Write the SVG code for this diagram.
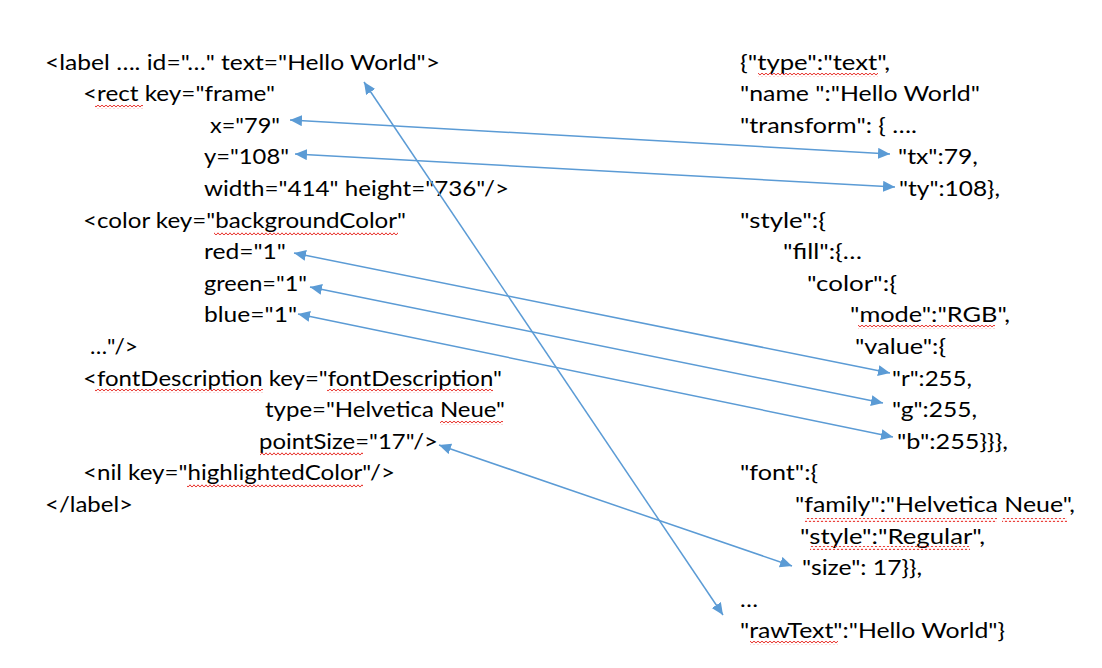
<svg xmlns="http://www.w3.org/2000/svg" width="1102" height="668" viewBox="0 0 1102 668">
<style>
text{font-family:Lato,"Open Sans","Liberation Sans",sans-serif;font-size:22px;fill:#000}
.c{stroke:#5B9BD5;stroke-width:1.5;fill:none;marker-start:url(#ah);marker-end:url(#ah)}
.sq{fill:url(#wave)}
</style>
<defs>
<marker id="ah" markerUnits="userSpaceOnUse" markerWidth="13" markerHeight="12" refX="12" refY="5.5" orient="auto-start-reverse" viewBox="0 0 13 12">
<path d="M0,0 L12,5.5 L0,11 z" fill="#5B9BD5"/>
</marker>
<pattern id="wave" patternUnits="userSpaceOnUse" width="4" height="4">
<path d="M0,3.2 L2,0.8 L4,3.2" stroke="#E8302A" stroke-width="1" fill="none"/>
</pattern>
</defs>
<rect width="1102" height="668" fill="#fff"/>
<g id="xml">
<g id="l1"><text x="45" y="69.5" textLength="395" lengthAdjust="spacingAndGlyphs">&lt;label …. id="…" text="Hello World"&gt;</text></g>
<g id="l2"><text x="83" y="101.1" textLength="192" lengthAdjust="spacingAndGlyphs">&lt;rect key="frame"</text><rect class="sq" x="95" y="105" width="48" height="4"/></g>
<g id="l3"><text x="210" y="132.7" textLength="70" lengthAdjust="spacingAndGlyphs">x="79"</text></g>
<g id="l4"><text x="204" y="164.3" textLength="85" lengthAdjust="spacingAndGlyphs">y="108"</text></g>
<g id="l5"><text x="204" y="195.9" textLength="305" lengthAdjust="spacingAndGlyphs">width="414" height="736"/&gt;</text></g>
<g id="l6"><text x="83" y="227.5" textLength="323" lengthAdjust="spacingAndGlyphs">&lt;color key="backgroundColor"</text><rect class="sq" x="214" y="231" width="184" height="4"/></g>
<g id="l7"><text x="204" y="259.1" textLength="82" lengthAdjust="spacingAndGlyphs">red="1"</text></g>
<g id="l8"><text x="204" y="290.7" textLength="103" lengthAdjust="spacingAndGlyphs">green="1"</text></g>
<g id="l9"><text x="204" y="322.3" textLength="93" lengthAdjust="spacingAndGlyphs">blue="1"</text></g>
<g id="l10"><text x="90" y="353.9" textLength="48" lengthAdjust="spacingAndGlyphs">…"/&gt;</text></g>
<g id="l11"><text x="83" y="385.5" textLength="419" lengthAdjust="spacingAndGlyphs">&lt;fontDescription key="fontDescription"</text><rect class="sq" x="95" y="389" width="168" height="4"/><rect class="sq" x="327" y="389" width="166" height="4"/></g>
<g id="l12"><text x="265" y="417.1" textLength="240" lengthAdjust="spacingAndGlyphs">type="Helvetica Neue"</text><rect class="sq" x="440" y="421" width="63" height="4"/></g>
<g id="l13"><text x="259" y="448.7" textLength="179" lengthAdjust="spacingAndGlyphs">pointSize="17"/&gt;</text><rect class="sq" x="260" y="452" width="103" height="4"/></g>
<g id="l14"><text x="83" y="480.3" textLength="312" lengthAdjust="spacingAndGlyphs">&lt;nil key="highlightedColor"/&gt;</text><rect class="sq" x="187" y="484" width="176" height="4"/></g>
<g id="l15"><text x="45" y="511.9" textLength="88" lengthAdjust="spacingAndGlyphs">&lt;/label&gt;</text></g>
</g>
<g id="json">
<g id="r1"><text x="740" y="69.5" textLength="150" lengthAdjust="spacingAndGlyphs">{"type":"text",</text><rect class="sq" x="758" y="73" width="120" height="4"/></g>
<g id="r2"><text x="740" y="101.1" textLength="240" lengthAdjust="spacingAndGlyphs">"name ":"Hello World"</text></g>
<g id="r3"><text x="740" y="132.7" textLength="177" lengthAdjust="spacingAndGlyphs">"transform": { ….</text></g>
<g id="r4"><text x="898" y="164.3" textLength="80" lengthAdjust="spacingAndGlyphs">"tx":79,</text></g>
<g id="r5"><text x="899" y="195.9" textLength="101" lengthAdjust="spacingAndGlyphs">"ty":108},</text></g>
<g id="r6"><text x="740" y="227.5" textLength="86" lengthAdjust="spacingAndGlyphs">"style":{</text></g>
<g id="r7"><text x="783" y="259.1" textLength="79" lengthAdjust="spacingAndGlyphs">"fill":{…</text></g>
<g id="r8"><text x="807" y="290.7" textLength="90" lengthAdjust="spacingAndGlyphs">"color":{</text></g>
<g id="r9"><text x="850" y="322.3" textLength="160" lengthAdjust="spacingAndGlyphs">"mode":"RGB",</text><rect class="sq" x="858" y="325" width="137" height="4"/></g>
<g id="r10"><text x="855" y="353.9" textLength="91" lengthAdjust="spacingAndGlyphs">"value":{</text></g>
<g id="r11"><text x="892" y="385.5" textLength="80" lengthAdjust="spacingAndGlyphs">"r":255,</text></g>
<g id="r12"><text x="892" y="417.1" textLength="85" lengthAdjust="spacingAndGlyphs">"g":255,</text></g>
<g id="r13"><text x="897" y="448.7" textLength="111" lengthAdjust="spacingAndGlyphs">"b":255}}},</text></g>
<g id="r14"><text x="740" y="480.3" textLength="78" lengthAdjust="spacingAndGlyphs">"font":{</text></g>
<g id="r15"><text x="795" y="511.9" textLength="280" lengthAdjust="spacingAndGlyphs">"family":"Helvetica Neue",</text><rect class="sq" x="805" y="518" width="192" height="4"/><rect class="sq" x="1002" y="518" width="65" height="4"/></g>
<g id="r16"><text x="800" y="543.5" textLength="185" lengthAdjust="spacingAndGlyphs">"style":"Regular",</text><rect class="sq" x="810" y="546" width="160" height="4"/></g>
<g id="r17"><text x="802" y="575.1" textLength="120" lengthAdjust="spacingAndGlyphs">"size": 17}},</text></g>
<g id="r18"><text x="740" y="606.7" textLength="18" lengthAdjust="spacingAndGlyphs">…</text></g>
<g id="r19"><text x="740" y="638.3" textLength="265" lengthAdjust="spacingAndGlyphs">"rawText":"Hello World"}</text><rect class="sq" x="750" y="641" width="88" height="4"/></g>
</g>
<g id="connectors">
<line class="c" x1="364" y1="82" x2="723" y2="615"/>
<line class="c" x1="290" y1="120" x2="890" y2="154"/>
<line class="c" x1="295" y1="154" x2="895" y2="187"/>
<line class="c" x1="294" y1="253" x2="890" y2="373"/>
<line class="c" x1="310" y1="287" x2="883" y2="403"/>
<line class="c" x1="298" y1="314" x2="893" y2="437"/>
<line class="c" x1="439" y1="445" x2="792" y2="566"/>
</g>
</svg>
